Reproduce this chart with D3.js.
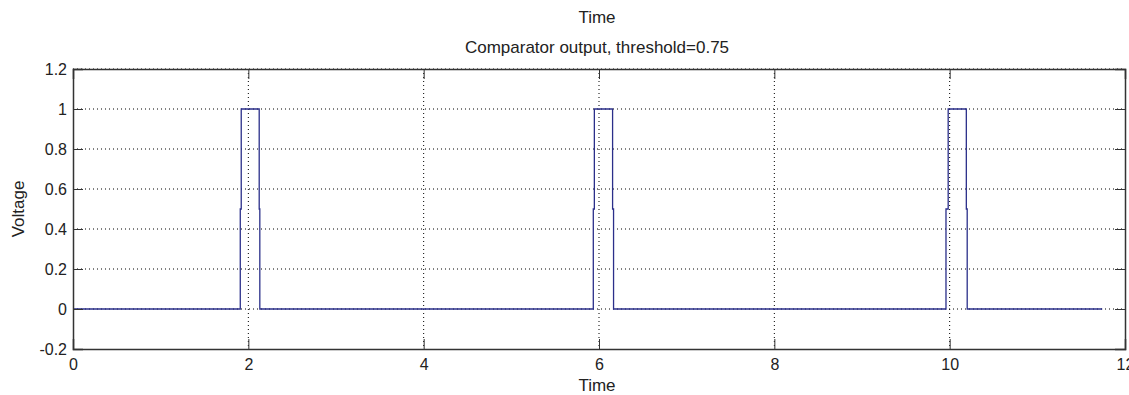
<!DOCTYPE html>
<html>
<head>
<meta charset="utf-8">
<script src="https://cdn.jsdelivr.net/npm/d3@7"></script>
<style>
  body { margin: 0; background: #fff; }
  svg text { font-family: "Liberation Sans", Arial, sans-serif; fill: #222; }
</style>
</head>
<body>
<svg id="chart" width="1129" height="395"></svg>
<script>
// comparator output as a stairs trace: time of each step and the level after it
var stepTimes  = [0, 1.908, 1.919, 2.124, 2.131, 5.935, 5.947, 6.155, 6.166, 9.958, 9.983, 10.19, 10.20, 11.74];
var stepValues = [0, 0.5,   1,     0.5,   0,     0.5,   1,     0.5,   0,     0.5,   1,     0.5,   0,     0];
var xTicks = [0, 2, 4, 6, 8, 10, 12];
var yTicks = [-0.2, 0, 0.2, 0.4, 0.6, 0.8, 1, 1.2];

var svg = d3.select("#chart"),
    margin = {top: 69, right: 4, bottom: 46, left: 73},
    width = 1129 - margin.left - margin.right,
    height = 395 - margin.top - margin.bottom,
    g = svg.append("g").attr("transform", "translate(" + margin.left + "," + margin.top + ")");

var x = d3.scaleLinear().domain([0, 12]).range([0, width]);
var y = d3.scaleLinear().domain([-0.2, 1.2]).range([280, 0]);

var data = stepTimes.map(function(t, i) { return {t: t, v: stepValues[i]} });

// dotted grid
g.append("g").selectAll("line")
  .data(xTicks.slice(1, -1))
  .enter().append("line")
    .attr("x1", function(d) { return x(d) }).attr("x2", function(d) { return x(d) })
    .attr("y1", 0).attr("y2", y.range()[0])
    .attr("stroke", "#000").attr("stroke-width", 1).attr("stroke-dasharray", "1,3");
g.append("g").selectAll("line")
  .data(yTicks.slice(1))
  .enter().append("line")
    .attr("y1", function(d) { return y(d) }).attr("y2", function(d) { return y(d) })
    .attr("x1", 0).attr("x2", x(12))
    .attr("stroke", "#000").attr("stroke-width", 1).attr("stroke-dasharray", "1,3");

// trace
var line = d3.line()
  .x(function(d) { return x(d.t) })
  .y(function(d) { return y(d.v) })
  .curve(d3.curveStepAfter);

g.append("path")
  .attr("d", line(data))
  .attr("fill", "none")
  .attr("stroke", "#2b2f8a")
  .attr("stroke-width", 1.3);

// axes with inward ticks, MATLAB style
g.append("g")
  .attr("transform", "translate(0," + y.range()[0] + ")")
  .call(d3.axisBottom(x).tickValues(xTicks).tickSize(-10).tickPadding(10).tickFormat(d3.format("d")))
  .call(styleAxis);
g.append("g")
  .call(d3.axisTop(x).tickValues(xTicks).tickSize(-10).tickFormat(""))
  .call(styleAxis);
g.append("g")
  .call(d3.axisLeft(y).tickValues(yTicks).tickSize(-10).tickPadding(6).tickFormat(function(d) { return String(+d.toFixed(1)) }))
  .call(styleAxis);
g.append("g")
  .attr("transform", "translate(" + x(12) + ",0)")
  .call(d3.axisRight(y).tickValues(yTicks).tickSize(-10).tickFormat(""))
  .call(styleAxis);

function styleAxis(a) {
  a.select(".domain").attr("stroke", "#333").attr("stroke-width", 1.5);
  a.selectAll(".tick line").attr("stroke", "#333");
  a.selectAll(".tick text").attr("font-size", 16).attr("fill", "#222");
}

svg.append("text").attr("x", 597).attr("y", 23)
  .attr("text-anchor", "middle").attr("font-size", 17).text("Time");
svg.append("text").attr("x", 597).attr("y", 53)
  .attr("text-anchor", "middle").attr("font-size", 17).text("Comparator output, threshold=0.75");
svg.append("text").attr("x", 597).attr("y", 391)
  .attr("text-anchor", "middle").attr("font-size", 17).text("Time");
svg.append("text").attr("transform", "translate(24," + (margin.top + 140) + ") rotate(-90)")
  .attr("text-anchor", "middle").attr("font-size", 17).text("Voltage");
</script>
</body>
</html>
